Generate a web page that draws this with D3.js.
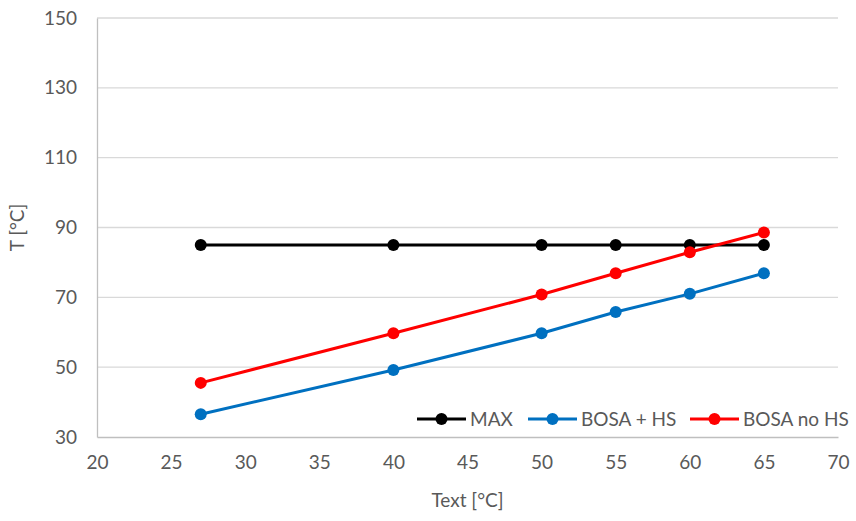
<!DOCTYPE html>
<html>
<head>
<meta charset="utf-8">
<script src="https://cdn.jsdelivr.net/npm/d3@7"></script>
<style>
  body { margin: 0; background: #fff; }
  text { font-family: Lato, "Open Sans", sans-serif; }
</style>
</head>
<body>
<div id="chart"></div>
<script>
const xVals = [27, 40, 50, 55, 60, 65];
const maxVals = [85, 85, 85, 85, 85, 85];
const hsVals = [36.5, 49.2, 59.7, 65.8, 71, 76.9];
const noHsVals = [45.5, 59.7, 70.8, 76.9, 82.9, 88.6];
const xTicks = [20, 25, 30, 35, 40, 45, 50, 55, 60, 65, 70];
const yTicks = [30, 50, 70, 90, 110, 130, 150];

const series = [
  { name: 'MAX', color: '#000000', values: maxVals },
  { name: 'BOSA + HS', color: '#0070c0', values: hsVals },
  { name: 'BOSA no HS', color: '#ff0000', values: noHsVals }
];

const W = 856, H = 521;
const m = { top: 18, right: 18, bottom: 84, left: 97 };
const w = W - m.left - m.right;
const h = H - m.top - m.bottom;
const fs = 19;

const svg = d3.select('#chart').append('svg').attr('width', W).attr('height', H);
const g = svg.append('g').attr('transform', `translate(${m.left},${m.top})`);

const x = d3.scaleLinear().domain([20, 70]).range([0, w]);
const y = d3.scaleLinear().domain([30, 150]).range([h, 0]);

// Grid
g.append('g').selectAll('line').data(yTicks.slice(1)).join('line')
  .attr('x1', 0).attr('x2', w).attr('y1', d => y(d)).attr('y2', d => y(d))
  .attr('stroke', '#d9d9d9').attr('stroke-width', 1.3);

// Axes
const yAxis = g.append('g').call(d3.axisLeft(y).tickValues(yTicks).tickSize(0).tickPadding(20));
const xAxis = g.append('g').attr('transform', `translate(0,${h})`)
  .call(d3.axisBottom(x).tickValues(xTicks).tickSize(0).tickPadding(19));
[yAxis, xAxis].forEach(a => {
  a.select('.domain').attr('stroke', '#bfbfbf').attr('stroke-width', 1.3);
  a.selectAll('text').attr('fill', '#595959').attr('font-size', fs);
});

// Axis titles
g.append('text').attr('transform', 'rotate(-90)').attr('x', -h / 2).attr('y', -73)
  .attr('text-anchor', 'middle').attr('fill', '#595959').attr('font-size', fs).text('T [°C]');
g.append('text').attr('x', w / 2).attr('y', h + 70)
  .attr('text-anchor', 'middle').attr('fill', '#595959').attr('font-size', fs).text('Text [°C]');

// Lines and markers
const line = d3.line().x((d, i) => x(xVals[i])).y(d => y(d));
series.forEach(s => {
  g.append('path').datum(s.values).attr('d', line)
    .attr('fill', 'none').attr('stroke', s.color).attr('stroke-width', 3);
  g.append('g').selectAll('circle').data(s.values).join('circle')
    .attr('cx', (d, i) => x(xVals[i])).attr('cy', d => y(d)).attr('r', 6)
    .attr('fill', s.color);
});

// Legend
const legendX = [417, 528, 690];
const legend = svg.append('g').attr('transform', 'translate(0,419)');
series.forEach((s, i) => {
  const lg = legend.append('g').attr('transform', `translate(${legendX[i]},0)`);
  lg.append('line').attr('x1', 0).attr('x2', 49).attr('stroke', s.color).attr('stroke-width', 3);
  lg.append('circle').attr('cx', 24.5).attr('r', 6).attr('fill', s.color);
  lg.append('text').attr('x', 53).attr('dy', '0.35em').attr('fill', '#595959')
    .attr('font-size', fs).text(s.name);
});
</script>
</body>
</html>
